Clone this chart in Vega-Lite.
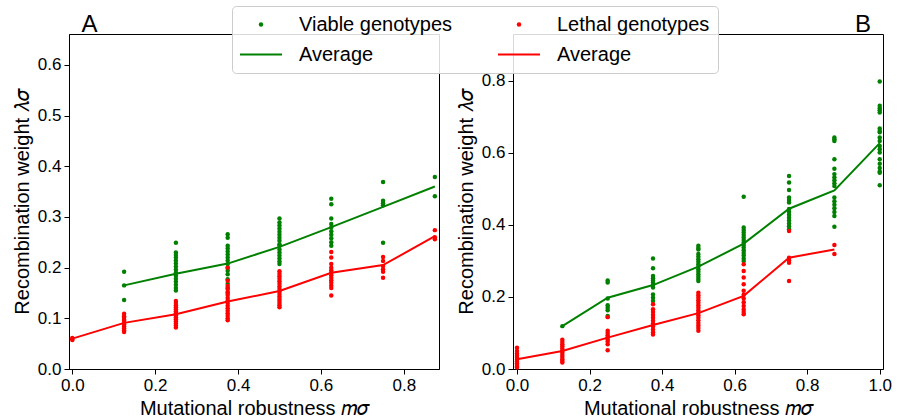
{
  "$schema": "https://vega.github.io/schema/vega-lite/v6.json",
  "padding": {"left": 11, "top": 5, "right": 4, "bottom": 0},
  "background": "white",
  "spacing": 15,
  "config": {
    "font": "Liberation Sans",
    "view": {"stroke": "black", "strokeWidth": 1},
    "axis": {
      "grid": false, "domainColor": "black", "tickColor": "black", "labelColor": "black", "titleColor": "black",
      "labelFont": "Liberation Sans", "titleFont": "Liberation Sans", "labelFontSize": 17, "titleFontSize": 20,
      "titleFontWeight": "normal", "tickSize": 5, "labelPadding": 3, "titlePadding": 5, "labelFlush": false, "labelOverlap": false
    },
    "legend": {
      "orient": "none", "legendX": 163, "legendY": -28, "columns": 2, "title": null,
      "labelFont": "Liberation Sans", "labelFontSize": 20, "labelColor": "black",
      "fillColor": "rgba(255,255,255,0.85)", "strokeColor": "#cccccc", "cornerRadius": 4, "padding": 8,
      "columnPadding": 45, "rowPadding": 9, "labelOffset": 28, "symbolOffset": 11, "symbolSize": 20, "clipHeight": 21
    }
  },
  "datasets": {
    "pts": [
      {"p":"A","s":"Viable genotypes","m":0.125,"v":[0.192,0.165,0.136]},
      {"p":"A","s":"Viable genotypes","m":0.25,"v":[0.249,0.230,0.225,0.220,0.214,0.208,0.202,0.196,0.190,0.184,0.178,0.172,0.166,0.160,0.155]},
      {"p":"A","s":"Viable genotypes","m":0.375,"v":[0.266,0.259,0.243,0.238,0.232,0.226,0.220,0.214,0.207,0.200,0.194,0.187,0.177,0.168,0.160,0.150]},
      {"p":"A","s":"Viable genotypes","m":0.5,"v":[0.297,0.289,0.283,0.277,0.271,0.265,0.259,0.253,0.246,0.243,0.236,0.230,0.224,0.218,0.212,0.207]},
      {"p":"A","s":"Viable genotypes","m":0.625,"v":[0.336,0.325,0.297,0.286,0.279,0.272,0.265,0.258,0.250,0.243]},
      {"p":"A","s":"Viable genotypes","m":0.75,"v":[0.369,0.332,0.327,0.323,0.249]},
      {"p":"A","s":"Viable genotypes","m":0.875,"v":[0.379,0.341]},
      {"p":"B","s":"Viable genotypes","m":0.125,"v":[0.119]},
      {"p":"B","s":"Viable genotypes","m":0.25,"v":[0.246,0.240,0.196,0.177,0.170,0.163,0.147]},
      {"p":"B","s":"Viable genotypes","m":0.375,"v":[0.307,0.280,0.258,0.252,0.246,0.240,0.233,0.226,0.207,0.198,0.189]},
      {"p":"B","s":"Viable genotypes","m":0.5,"v":[0.342,0.336,0.332,0.319,0.312,0.305,0.298,0.291,0.284,0.277,0.270,0.263,0.256,0.250,0.244]},
      {"p":"B","s":"Viable genotypes","m":0.625,"v":[0.478,0.393,0.386,0.379,0.372,0.365,0.358,0.351,0.344,0.337,0.330,0.322,0.315,0.307,0.300]},
      {"p":"B","s":"Viable genotypes","m":0.75,"v":[0.536,0.518,0.497,0.476,0.469,0.462,0.444,0.436,0.428,0.420,0.412,0.404,0.396,0.388]},
      {"p":"B","s":"Viable genotypes","m":0.875,"v":[0.643,0.638,0.633,0.582,0.556,0.541,0.532,0.524,0.516,0.508,0.476,0.466,0.456,0.446,0.436,0.425,0.395]},
      {"p":"B","s":"Viable genotypes","m":1.0,"v":[0.798,0.731,0.724,0.718,0.712,0.668,0.661,0.657,0.643,0.633,0.619,0.610,0.601,0.582,0.570,0.558,0.548,0.545,0.510]},
      {"p":"A","s":"Lethal genotypes","m":0,"v":[0.057,0.059,0.061]},
      {"p":"A","s":"Lethal genotypes","m":0.125,"v":[0.109,0.104,0.101,0.097,0.095,0.091,0.088,0.084,0.080,0.076,0.073]},
      {"p":"A","s":"Lethal genotypes","m":0.25,"v":[0.134,0.130,0.126,0.122,0.118,0.114,0.110,0.106,0.102,0.098,0.094,0.090,0.086,0.082]},
      {"p":"A","s":"Lethal genotypes","m":0.375,"v":[0.200,0.174,0.164,0.158,0.152,0.146,0.140,0.135,0.130,0.125,0.120,0.115,0.110,0.105,0.100,0.096]},
      {"p":"A","s":"Lethal genotypes","m":0.5,"v":[0.193,0.188,0.183,0.178,0.173,0.168,0.163,0.158,0.153,0.148,0.143,0.138,0.134,0.130,0.126,0.122]},
      {"p":"A","s":"Lethal genotypes","m":0.625,"v":[0.231,0.220,0.207,0.200,0.195,0.190,0.185,0.180,0.175,0.170,0.165,0.160,0.145]},
      {"p":"A","s":"Lethal genotypes","m":0.75,"v":[0.221,0.213,0.203,0.197,0.192,0.180]},
      {"p":"A","s":"Lethal genotypes","m":0.875,"v":[0.274,0.260,0.256]},
      {"p":"B","s":"Lethal genotypes","m":0,"v":[0.059,0.050,0.043,0.037,0.031,0.026,0.021,0.016,0.011,0.007,0.004]},
      {"p":"B","s":"Lethal genotypes","m":0.125,"v":[0.081,0.075,0.069,0.063,0.057,0.051,0.045,0.039,0.033,0.027,0.022,0.018]},
      {"p":"B","s":"Lethal genotypes","m":0.25,"v":[0.144,0.106,0.100,0.094,0.088,0.082,0.076,0.069,0.052]},
      {"p":"B","s":"Lethal genotypes","m":0.375,"v":[0.180,0.166,0.158,0.150,0.142,0.134,0.126,0.118,0.110,0.102,0.096]},
      {"p":"B","s":"Lethal genotypes","m":0.5,"v":[0.212,0.205,0.198,0.191,0.184,0.177,0.170,0.163,0.156,0.149,0.142,0.135,0.128,0.121,0.114,0.106]},
      {"p":"B","s":"Lethal genotypes","m":0.625,"v":[0.291,0.272,0.254,0.235,0.217,0.206,0.196,0.185,0.175,0.165,0.158,0.152]},
      {"p":"B","s":"Lethal genotypes","m":0.75,"v":[0.383,0.309,0.302,0.295,0.244]},
      {"p":"B","s":"Lethal genotypes","m":0.875,"v":[0.344,0.319]}
    ],
    "avg": [
      {"p":"A","s":"Average (viable)","m":0.125,"v":0.165},
      {"p":"A","s":"Average (viable)","m":0.25,"v":0.188},
      {"p":"A","s":"Average (viable)","m":0.375,"v":0.208},
      {"p":"A","s":"Average (viable)","m":0.5,"v":0.241},
      {"p":"A","s":"Average (viable)","m":0.625,"v":0.280},
      {"p":"A","s":"Average (viable)","m":0.75,"v":0.320},
      {"p":"A","s":"Average (viable)","m":0.875,"v":0.360},
      {"p":"A","s":"Average (lethal)","m":0,"v":0.060},
      {"p":"A","s":"Average (lethal)","m":0.125,"v":0.091},
      {"p":"A","s":"Average (lethal)","m":0.25,"v":0.108},
      {"p":"A","s":"Average (lethal)","m":0.375,"v":0.133},
      {"p":"A","s":"Average (lethal)","m":0.5,"v":0.154},
      {"p":"A","s":"Average (lethal)","m":0.625,"v":0.190},
      {"p":"A","s":"Average (lethal)","m":0.75,"v":0.205},
      {"p":"A","s":"Average (lethal)","m":0.875,"v":0.262},
      {"p":"B","s":"Average (viable)","m":0.125,"v":0.119},
      {"p":"B","s":"Average (viable)","m":0.25,"v":0.198},
      {"p":"B","s":"Average (viable)","m":0.375,"v":0.233},
      {"p":"B","s":"Average (viable)","m":0.5,"v":0.284},
      {"p":"B","s":"Average (viable)","m":0.625,"v":0.348},
      {"p":"B","s":"Average (viable)","m":0.75,"v":0.445},
      {"p":"B","s":"Average (viable)","m":0.875,"v":0.496},
      {"p":"B","s":"Average (viable)","m":1.0,"v":0.627},
      {"p":"B","s":"Average (lethal)","m":0,"v":0.027},
      {"p":"B","s":"Average (lethal)","m":0.125,"v":0.050},
      {"p":"B","s":"Average (lethal)","m":0.25,"v":0.087},
      {"p":"B","s":"Average (lethal)","m":0.375,"v":0.122},
      {"p":"B","s":"Average (lethal)","m":0.5,"v":0.155},
      {"p":"B","s":"Average (lethal)","m":0.625,"v":0.203},
      {"p":"B","s":"Average (lethal)","m":0.75,"v":0.309},
      {"p":"B","s":"Average (lethal)","m":0.875,"v":0.332}
    ]
  },
  "resolve": {"scale": {"x": "independent", "y": "independent", "color": "shared", "shape": "shared", "strokeWidth": "shared"}},
  "hconcat": [
    {
      "width": 370, "height": 335,
      "layer": [
        {
          "data": {"name": "pts"},
          "transform": [{"filter": "datum.p == 'A'"}, {"flatten": ["v"]}],
          "mark": {"type": "point", "filled": true, "opacity": 1, "size": 20},
          "encoding": {
            "x": {"field": "m", "type": "quantitative", "scale": {"domain": [-0.008, 0.885], "nice": false, "zero": false},
                  "axis": {"values": [0, 0.2, 0.4, 0.6, 0.8], "format": ".1f", "title": "Mutational robustness 𝑚𝜎"}},
            "y": {"field": "v", "type": "quantitative", "scale": {"domain": [0, 0.661], "nice": false},
                  "axis": {"values": [0, 0.1, 0.2, 0.3, 0.4, 0.5, 0.6], "format": ".1f", "title": "Recombination weight 𝜆𝜎"}},
            "color": {"field": "s", "type": "nominal",
              "scale": {"domain": ["Viable genotypes", "Average (viable)", "Lethal genotypes", "Average (lethal)"], "range": ["#008000", "#008000", "#ff0000", "#ff0000"]},
              "legend": {"labelExpr": "indexof(datum.label, 'Average') == 0 ? 'Average' : datum.label"}},
            "shape": {"field": "s", "type": "nominal",
              "scale": {"type": "ordinal", "domain": ["Viable genotypes", "Average (viable)", "Lethal genotypes", "Average (lethal)"], "range": ["circle", "M-9.4,0H9.4", "circle", "M-9.4,0H9.4"]},
              "legend": {"labelExpr": "indexof(datum.label, 'Average') == 0 ? 'Average' : datum.label"}},
            "strokeWidth": {"field": "s", "type": "nominal",
              "scale": {"type": "ordinal", "domain": ["Viable genotypes", "Average (viable)", "Lethal genotypes", "Average (lethal)"], "range": [0, 2, 0, 2]},
              "legend": {"labelExpr": "indexof(datum.label, 'Average') == 0 ? 'Average' : datum.label"}}
          }
        },
        {
          "data": {"name": "avg"},
          "transform": [{"filter": "datum.p == 'A'"}],
          "mark": {"type": "line", "strokeWidth": 2},
          "encoding": {
            "x": {"field": "m", "type": "quantitative"},
            "y": {"field": "v", "type": "quantitative"},
            "color": {"field": "s", "type": "nominal",
              "scale": {"domain": ["Viable genotypes", "Average (viable)", "Lethal genotypes", "Average (lethal)"], "range": ["#008000", "#008000", "#ff0000", "#ff0000"]},
              "legend": {"labelExpr": "indexof(datum.label, 'Average') == 0 ? 'Average' : datum.label"}}}
        },
        {
          "data": {"values": [{"lab": "A"}]},
          "mark": {"type": "text", "align": "left", "baseline": "alphabetic", "dx": 12.5, "dy": -1.6, "fontSize": 24, "font": "Liberation Sans", "color": "black"},
          "encoding": {"text": {"field": "lab", "type": "nominal"}, "x": {"datum": -0.008, "type": "quantitative"}, "y": {"datum": 0.661, "type": "quantitative"}}
        }
      ]
    },
    {
      "width": 370, "height": 335,
      "layer": [
        {
          "data": {"name": "pts"},
          "transform": [{"filter": "datum.p == 'B'"}, {"flatten": ["v"]}],
          "mark": {"type": "point", "filled": true, "opacity": 1, "size": 20},
          "encoding": {
            "x": {"field": "m", "type": "quantitative", "scale": {"domain": [-0.011, 1.009], "nice": false, "zero": false},
                  "axis": {"values": [0, 0.2, 0.4, 0.6, 0.8, 1.0], "format": ".1f", "title": "Mutational robustness 𝑚𝜎"}},
            "y": {"field": "v", "type": "quantitative", "scale": {"domain": [0, 0.93], "nice": false},
                  "axis": {"values": [0, 0.2, 0.4, 0.6, 0.8], "format": ".1f", "title": "Recombination weight 𝜆𝜎"}},
            "color": {"field": "s", "type": "nominal",
              "scale": {"domain": ["Viable genotypes", "Average (viable)", "Lethal genotypes", "Average (lethal)"], "range": ["#008000", "#008000", "#ff0000", "#ff0000"]},
              "legend": {"labelExpr": "indexof(datum.label, 'Average') == 0 ? 'Average' : datum.label"}},
            "shape": {"field": "s", "type": "nominal",
              "scale": {"type": "ordinal", "domain": ["Viable genotypes", "Average (viable)", "Lethal genotypes", "Average (lethal)"], "range": ["circle", "M-9.4,0H9.4", "circle", "M-9.4,0H9.4"]},
              "legend": {"labelExpr": "indexof(datum.label, 'Average') == 0 ? 'Average' : datum.label"}},
            "strokeWidth": {"field": "s", "type": "nominal",
              "scale": {"type": "ordinal", "domain": ["Viable genotypes", "Average (viable)", "Lethal genotypes", "Average (lethal)"], "range": [0, 2, 0, 2]},
              "legend": {"labelExpr": "indexof(datum.label, 'Average') == 0 ? 'Average' : datum.label"}}
          }
        },
        {
          "data": {"name": "avg"},
          "transform": [{"filter": "datum.p == 'B'"}],
          "mark": {"type": "line", "strokeWidth": 2},
          "encoding": {
            "x": {"field": "m", "type": "quantitative"},
            "y": {"field": "v", "type": "quantitative"},
            "color": {"field": "s", "type": "nominal",
              "scale": {"domain": ["Viable genotypes", "Average (viable)", "Lethal genotypes", "Average (lethal)"], "range": ["#008000", "#008000", "#ff0000", "#ff0000"]},
              "legend": {"labelExpr": "indexof(datum.label, 'Average') == 0 ? 'Average' : datum.label"}}}
        },
        {
          "data": {"values": [{"lab": "B"}]},
          "mark": {"type": "text", "align": "right", "baseline": "alphabetic", "dx": -12, "dy": -1.6, "fontSize": 24, "font": "Liberation Sans", "color": "black"},
          "encoding": {"text": {"field": "lab", "type": "nominal"}, "x": {"datum": 1.009, "type": "quantitative"}, "y": {"datum": 0.93, "type": "quantitative"}}
        }
      ]
    }
  ]
}
